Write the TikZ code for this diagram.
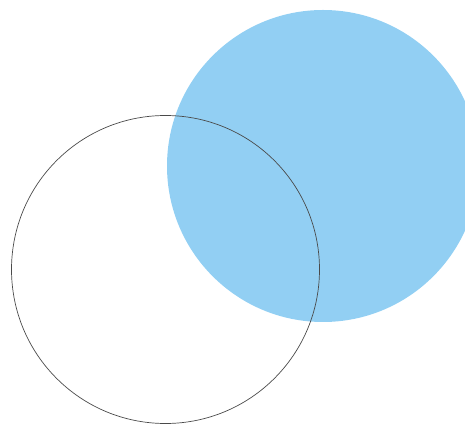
\documentclass[tikz,border=0pt]{standalone}
\usepackage{tikz}
\usetikzlibrary{positioning}
\definecolor{disc}{HTML}{92CFF3}
\definecolor{ring}{HTML}{4A4A4A}

\begin{document}
\begin{tikzpicture}[x=1pt,y=1pt]
\useasboundingbox (0,0) rectangle (465,425);
\clip (0,0) rectangle (465,425);
\coordinate (bluec) at (323,259);
\coordinate (openc) at (165.5,155.5);
\fill[disc] (bluec) circle (156);
\draw[ring, line width=0.7pt] (openc) circle (154);
\end{tikzpicture}
\end{document}
